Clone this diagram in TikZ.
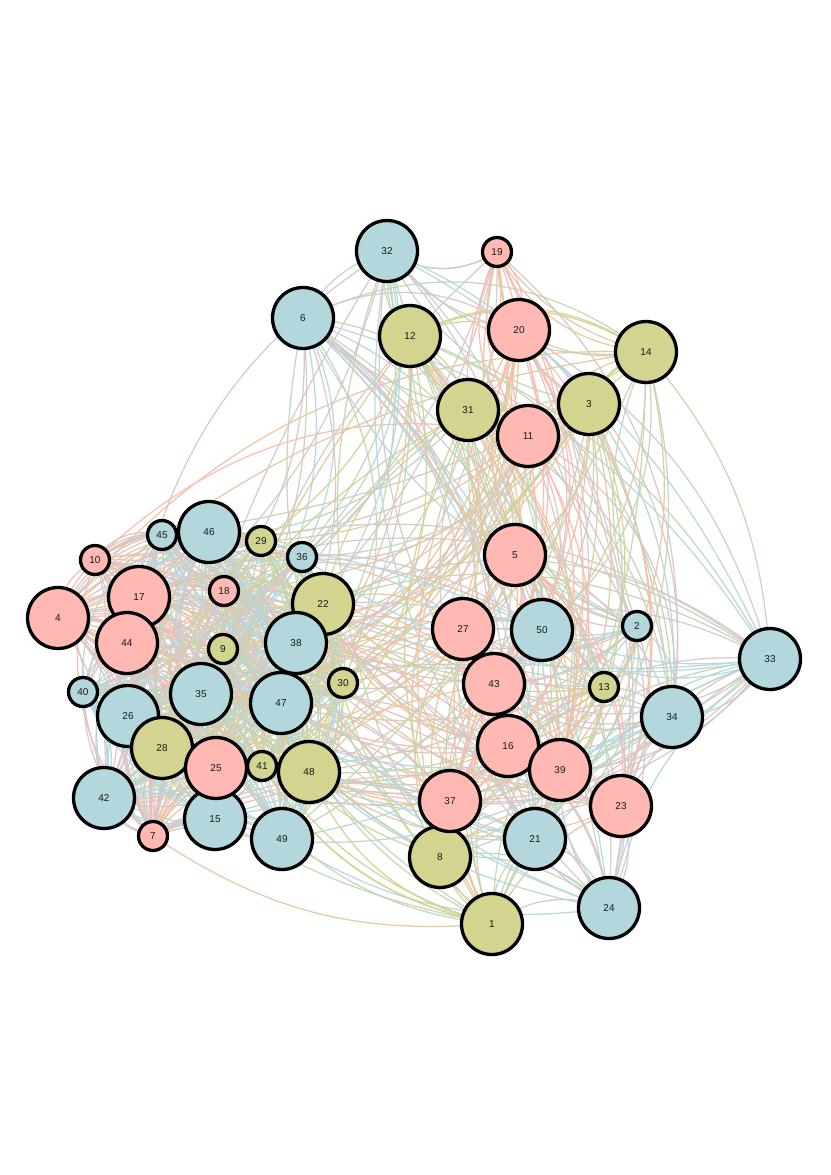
\documentclass[tikz,border=0pt]{standalone}
\usepackage{fontspec}
\setmainfont{Liberation Sans}
\definecolor{cB}{HTML}{B4D7DE}
\definecolor{cP}{HTML}{FFB8B2}
\definecolor{cO}{HTML}{D2D48F}
\tikzset{
  nd/.style={circle,draw=black,line width=3.3pt,inner sep=0pt,font=\fontsize{10}{11}\selectfont,text=black!90},
  szB/.style={minimum size=61pt},
  szS/.style={minimum size=29pt},
  ed/.style={line width=1.25pt,opacity=0.95}
}
% pass 1 probabilities
\def\aLL{1.0}\def\aRR{0.7}\def\aTT{0.7}
\def\aLR{0.2}\def\aRL{0.2}
\def\aLT{0.16}\def\aTL{0.16}
\def\aRT{0.4}\def\aTR{0.4}
% pass 2 probabilities
\def\bLL{0.55}\def\bRR{0.35}\def\bTT{0.3}
\def\bLR{0.08}\def\bRL{0.08}
\def\bLT{0.06}\def\bTL{0.06}
\def\bRT{0.18}\def\bTR{0.18}
\def\nodelist{
 32/387/251/B/B/T, 19/497/252/S/P/T, 6/303/318/B/B/T, 12/410/336/B/O/T,
 20/519/330/B/P/T, 14/646/352/B/O/T, 31/468/410/B/O/T, 11/528/436/B/P/T,
 3/589/404/B/O/T, 45/162/535/S/B/L, 46/209/532/B/B/L, 29/261/541/S/O/L,
 36/302/557/S/B/L, 10/95/560/S/P/L, 5/515/555/B/P/R, 17/139/597/B/P/L,
 44/127/643/B/P/L, 18/224/591/S/P/L, 22/323/604/B/O/L, 38/296/643/B/B/L,
 4/58/618/B/P/L, 27/463/629/B/P/R, 50/542/630/B/B/R, 2/637/626/S/B/R,
 33/770/659/B/B/R, 9/223/649/S/O/L, 30/343/683/S/O/L, 43/494/684/B/P/R,
 13/604/687/S/O/R, 40/83/692/S/B/L, 35/201/694/B/B/L, 47/281/703/B/B/L,
 34/672/717/B/B/R, 26/128/716/B/B/L, 28/162/748/B/O/L, 16/508/746/B/P/R,
 39/560/770/B/P/R, 41/262/766/S/O/L, 48/309/772/B/O/L, 15/215/819/B/B/L,
 25/216/768/B/P/L, 8/440/857/B/O/R, 37/450/801/B/P/R, 23/621/806/B/P/R,
 42/104/798/B/B/L, 49/282/839/B/B/L, 21/535/839/B/B/R, 7/153/836/S/P/L,
 24/609/908/B/B/R, 1/492/924/B/O/R}
\begin{document}
\begin{tikzpicture}[x=1pt,y=-1pt]
\useasboundingbox[fill=white] (0,0) rectangle (830,1175);
\foreach \nn/\xx/\yy/\ss/\cc/\kk in \nodelist {
  \coordinate (p\nn) at (\xx,\yy);
  \expandafter\xdef\csname cl\nn\endcsname{\kk}
  \expandafter\xdef\csname gc\nn\endcsname{\cc}
}
\pgfmathsetseed{12}
\foreach \pass/\lo/\rg in {a/18/14, b/8/30}{
\foreach \ii in {1,...,49}{
  \pgfmathtruncatemacro\jstart{\ii+1}
  \foreach \jj in {\jstart,...,50}{
    \edef\myka{\csname cl\ii\endcsname}
    \edef\mykb{\csname cl\jj\endcsname}
    \edef\myp{\csname\pass\myka\mykb\endcsname}
    \pgfmathparse{rnd<\myp ? 1 : 0}
    \pgfmathtruncatemacro\mytest{\pgfmathresult}
    \ifnum\mytest=1
      \pgfmathsetmacro\mybend{\lo+\rg*rnd}
      \edef\myca{\csname gc\ii\endcsname}
      \edef\mycb{\csname gc\jj\endcsname}
      \draw[ed,color=c\myca!50!c\mycb] (p\ii) to[bend left=\mybend] (p\jj);
    \fi
  }
}}
\foreach \nn/\xx/\yy/\ss/\cc/\kk in \nodelist {
  \node[nd,sz\ss,fill=c\cc] (n\nn) at (p\nn) {\nn};
}
\end{tikzpicture}
\end{document}
